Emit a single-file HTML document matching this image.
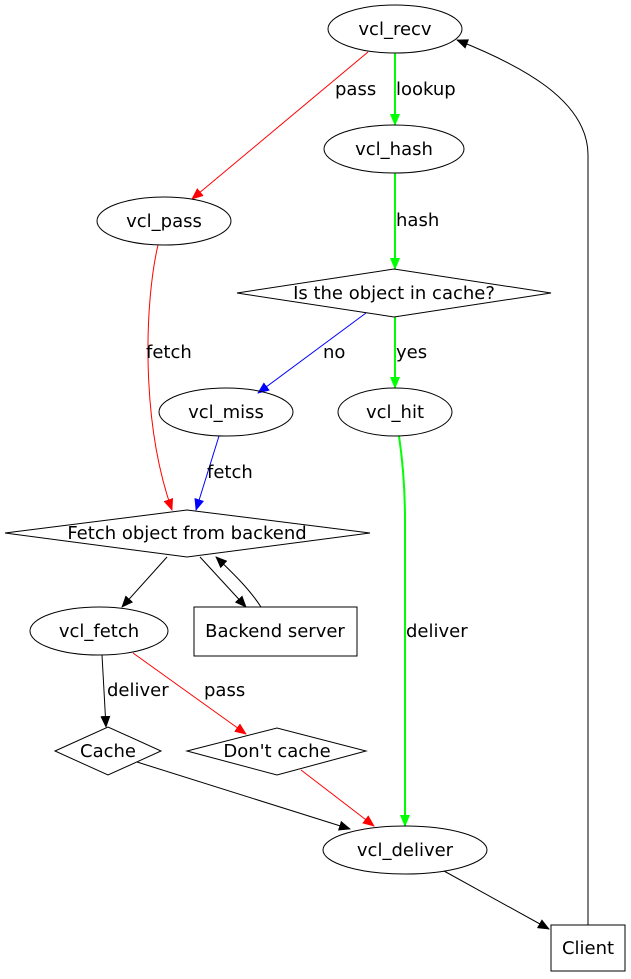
<!DOCTYPE html>
<html><head><meta charset="utf-8"><style>
html,body{margin:0;padding:0;background:#fff}
svg{display:block}
text{font-family:"DejaVu Sans","Liberation Sans",sans-serif;font-size:18px;fill:#000}
</style></head><body>
<svg width="631" height="979" viewBox="0 0 631 979" xmlns="http://www.w3.org/2000/svg">
<defs>
<marker id="k" markerWidth="12" markerHeight="10" refX="11" refY="5" orient="auto" markerUnits="userSpaceOnUse"><path d="M0,0 L12,5 L0,10Z" fill="#000"/></marker>
<marker id="r" markerWidth="12" markerHeight="10" refX="11" refY="5" orient="auto" markerUnits="userSpaceOnUse"><path d="M0,0 L12,5 L0,10Z" fill="#f00"/></marker>
<marker id="g" markerWidth="12" markerHeight="10" refX="11" refY="5" orient="auto" markerUnits="userSpaceOnUse"><path d="M0,0 L12,5 L0,10Z" fill="#0f0"/></marker>
<marker id="b" markerWidth="12" markerHeight="10" refX="11" refY="5" orient="auto" markerUnits="userSpaceOnUse"><path d="M0,0 L12,5 L0,10Z" fill="#00f"/></marker>
</defs>
<g fill="none" stroke-width="1">
<path d="M368,52 L192,199" stroke="#f00" marker-end="url(#r)"/>
<path d="M395,53 L395,125" stroke="#0f0" stroke-width="2" marker-end="url(#g)"/>
<path d="M395,173 L395,269" stroke="#0f0" stroke-width="2" marker-end="url(#g)"/>
<path d="M158,245 C145,300 140,420 172,510" stroke="#f00" marker-end="url(#r)"/>
<path d="M366,313 L258,393" stroke="#00f" marker-end="url(#b)"/>
<path d="M395,317 L395,388" stroke="#0f0" stroke-width="2" marker-end="url(#g)"/>
<path d="M219,436 L196,510" stroke="#00f" marker-end="url(#b)"/>
<path d="M399,436 C404,470 405,500 405,520 L405,826" stroke="#0f0" stroke-width="2" marker-end="url(#g)"/>
<path d="M167,557 L122,607" stroke="#000" marker-end="url(#k)"/>
<path d="M200,557 L246,607" stroke="#000" marker-end="url(#k)"/>
<path d="M261,607 C250,590 235,575 216,557" stroke="#000" marker-end="url(#k)"/>
<path d="M102,655 L106,727" stroke="#000" marker-end="url(#k)"/>
<path d="M133,653 L246,734" stroke="#f00" marker-end="url(#r)"/>
<path d="M137,762 L350,829" stroke="#000" marker-end="url(#k)"/>
<path d="M301,770 L374,826" stroke="#f00" marker-end="url(#r)"/>
<path d="M444,871 L549,929" stroke="#000" marker-end="url(#k)"/>
<path d="M588,925 L588,155 C588,100 520,65 457,40" stroke="#000" marker-end="url(#k)"/>
<g stroke="#000">
<ellipse cx="395" cy="29" rx="67" ry="24"/>
<ellipse cx="394" cy="149" rx="70" ry="24"/>
<ellipse cx="164" cy="221" rx="67" ry="24"/>
<polygon points="237,293 394,269 551,293 394,317"/>
<ellipse cx="226" cy="412" rx="67" ry="24"/>
<ellipse cx="395" cy="412" rx="57" ry="24"/>
<polygon points="5,533 187,510 370,533 187,557"/>
<ellipse cx="99" cy="631" rx="69" ry="24"/>
<rect x="194" y="607" width="163" height="49"/>
<polygon points="55,751 108,727 161,751 108,775"/>
<polygon points="187,751 277,728 366,751 277,775"/>
<ellipse cx="405" cy="850" rx="82" ry="24"/>
<rect x="551" y="925" width="74" height="46"/>
</g>
</g>
<g text-anchor="middle">
<text x="395" y="35">vcl_recv</text>
<text x="394" y="155">vcl_hash</text>
<text x="164" y="227">vcl_pass</text>
<text x="394" y="299">Is the object in cache?</text>
<text x="226" y="418">vcl_miss</text>
<text x="395" y="418">vcl_hit</text>
<text x="187" y="539">Fetch object from backend</text>
<text x="99" y="637">vcl_fetch</text>
<text x="275" y="637">Backend server</text>
<text x="108" y="757">Cache</text>
<text x="277" y="757">Don't cache</text>
<text x="405" y="856">vcl_deliver</text>
<text x="588" y="954">Client</text>
</g>
<g>
<text x="335" y="95">pass</text>
<text x="396" y="95">lookup</text>
<text x="396" y="226">hash</text>
<text x="146" y="358">fetch</text>
<text x="323" y="358">no</text>
<text x="396" y="358">yes</text>
<text x="207" y="478">fetch</text>
<text x="406" y="637">deliver</text>
<text x="107" y="696">deliver</text>
<text x="204" y="696">pass</text>
</g>
</svg>
</body></html>
